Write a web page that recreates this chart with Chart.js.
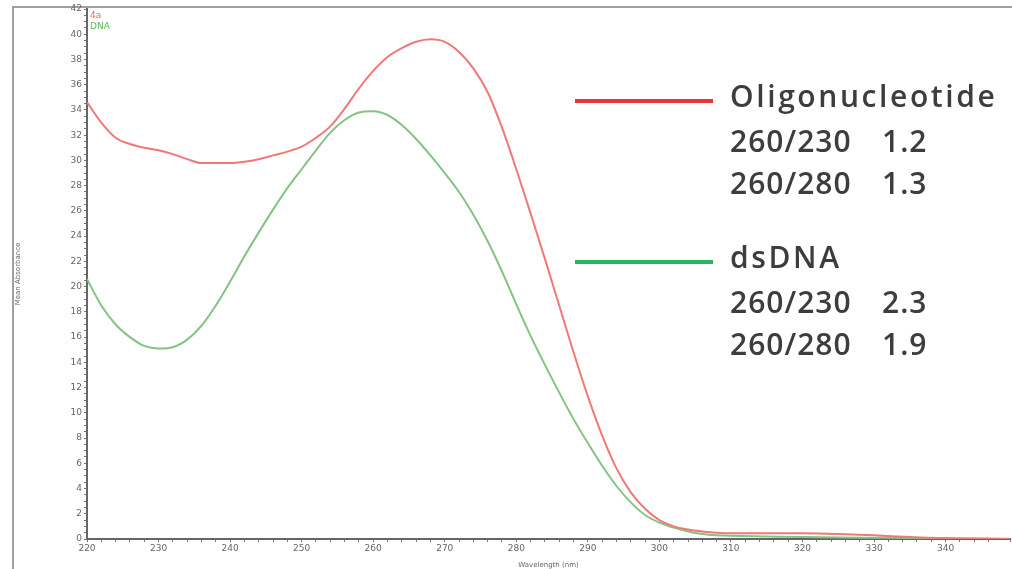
<!DOCTYPE html>
<html>
<head>
<meta charset="utf-8">
<script src="https://cdn.jsdelivr.net/npm/chart.js@4"></script>
<style>
  html, body { margin: 0; padding: 0; background: #fff; }
  #wrap { width: 1012px; height: 569px; position: relative; }
</style>
</head>
<body>
<div id="wrap"><canvas id="spectrumChart" width="1012" height="569"></canvas></div>
<script>
// absorbance spectra
var wavelengths = [220, 222, 224, 226, 228, 230, 232, 234, 236, 238, 240, 242, 244, 246, 248, 250, 252, 254, 256, 258, 260, 262, 264, 266, 268, 270, 272, 274, 276, 278, 280, 282, 284, 286, 288, 290, 292, 294, 296, 298, 300, 302, 304, 306, 308, 310, 315, 320, 325, 330, 335, 340, 345, 349];
var oligoValues = [34.6, 33.0, 31.8, 31.3, 31.0, 30.8, 30.5, 30.1, 29.8, 29.8, 29.8, 29.9, 30.1, 30.4, 30.7, 31.1, 31.8, 32.7, 34.1, 35.7, 37.1, 38.2, 38.9, 39.4, 39.6, 39.4, 38.6, 37.3, 35.4, 32.6, 29.3, 25.8, 22.2, 18.5, 14.8, 11.3, 8.2, 5.6, 3.7, 2.4, 1.5, 1.0, 0.75, 0.6, 0.5, 0.45, 0.45, 0.45, 0.4, 0.3, 0.15, 0.05, 0.02, 0.0];
var dnaValues = [20.6, 18.5, 17.0, 16.0, 15.3, 15.1, 15.2, 15.8, 16.9, 18.5, 20.4, 22.4, 24.3, 26.1, 27.8, 29.3, 30.8, 32.2, 33.2, 33.8, 33.9, 33.6, 32.8, 31.7, 30.4, 29.0, 27.5, 25.7, 23.6, 21.2, 18.6, 16.1, 13.8, 11.6, 9.5, 7.6, 5.8, 4.2, 2.9, 1.9, 1.3, 0.9, 0.6, 0.4, 0.3, 0.25, 0.2, 0.15, 0.12, 0.1, 0.08, 0.05, 0.03, 0.02];
var seriesNames = ['4a', 'DNA'];
var noteTitles = ['Oligonucleotide', 'dsDNA'];
var noteRatios = [['260/230', '1.2', '260/280', '1.3'], ['260/230', '2.3', '260/280', '1.9']];

function toPoints(vals) {
  return wavelengths.map(function (w, i) { return { x: w, y: vals[i] }; });
}

// frame, small legend and the big side notes
var notesPlugin = {
  id: 'notes',
  beforeDraw: function (chart) {
    var c = chart.ctx;
    c.save();
    c.fillStyle = '#fff';
    c.fillRect(0, 0, chart.width, chart.height);
    c.strokeStyle = '#a0a0a0';
    c.lineWidth = 2;
    c.beginPath();
    c.moveTo(13, 569);
    c.lineTo(13, 7);
    c.lineTo(1012, 7);
    c.stroke();
    c.restore();
  },
  afterDraw: function (chart) {
    var c = chart.ctx;
    c.save();
    c.font = '9px "DejaVu Sans"';
    c.textBaseline = 'alphabetic';
    c.fillStyle = '#e86a6a';
    c.fillText(seriesNames[0], 90, 18);
    c.fillStyle = '#5cb85c';
    c.fillText(seriesNames[1], 90, 29);

    var lineCols = ['#e8343a', '#27b561'];
    var tops = [101, 262];
    c.lineWidth = 4;
    c.lineCap = 'butt';
    for (var i = 0; i < 2; i++) {
      c.strokeStyle = lineCols[i];
      c.beginPath();
      c.moveTo(575, tops[i]);
      c.lineTo(713, tops[i]);
      c.stroke();
      c.fillStyle = '#3d3d3d';
      c.font = '600 30px "Open Sans"';
      c.letterSpacing = '2.6px';
      c.fillText(noteTitles[i], 730, tops[i] + 6);
      c.letterSpacing = '1px';
      var r = noteRatios[i];
      c.fillText(r[0], 730, tops[i] + 51);
      c.fillText(r[1], 882, tops[i] + 51);
      c.fillText(r[2], 730, tops[i] + 93);
      c.fillText(r[3], 882, tops[i] + 93);
    }
    c.restore();
  }
};

var ctx = document.getElementById('spectrumChart').getContext('2d');
var spectrumChart = new Chart(ctx, {
  type: 'line',
  data: {
    datasets: [{
      label: seriesNames[0],
      data: toPoints(oligoValues),
      borderColor: '#f07878',
      borderWidth: 2,
      pointRadius: 0,
      cubicInterpolationMode: 'monotone'
    }, {
      label: seriesNames[1],
      data: toPoints(dnaValues),
      borderColor: '#82c482',
      borderWidth: 2,
      pointRadius: 0,
      cubicInterpolationMode: 'monotone'
    }]
  },
  options: {
    responsive: false,
    animation: false,
    layout: { padding: { top: 9, right: 2, bottom: 0, left: 0 } },
    plugins: {
      legend: { display: false },
      tooltip: { enabled: false }
    },
    scales: {
      x: {
        type: 'linear',
        min: 220,
        max: 349,
        afterFit: function (s) { s.height = 30; },
        border: { color: '#666', width: 2 },
        grid: { drawOnChartArea: false, tickLength: 3, color: '#777' },
        ticks: {
          stepSize: 2,
          autoSkip: false,
          maxRotation: 0,
          padding: 1,
          color: '#666',
          font: { family: 'DejaVu Sans', size: 9 },
          callback: function (v) { return v % 10 === 0 ? v : ''; }
        },
        title: {
          display: true,
          text: 'Wavelength (nm)',
          color: '#666',
          padding: 0,
          font: { family: 'DejaVu Sans', size: 7 }
        }
      },
      y: {
        min: 0,
        max: 42,
        afterFit: function (s) { s.width = 87; },
        border: { color: '#666', width: 2 },
        grid: { drawOnChartArea: false, tickLength: 3, color: '#777' },
        ticks: {
          stepSize: 0.5,
          autoSkip: false,
          padding: 2,
          color: '#666',
          font: { family: 'DejaVu Sans', size: 9 },
          callback: function (v) { return v % 2 === 0 ? v : ''; }
        },
        title: {
          display: true,
          text: 'Mean Absorbance',
          color: '#666',
          padding: { top: 14, bottom: 0 },
          font: { family: 'DejaVu Sans', size: 7 }
        }
      }
    }
  },
  plugins: [notesPlugin]
});
</script>
</body>
</html>
